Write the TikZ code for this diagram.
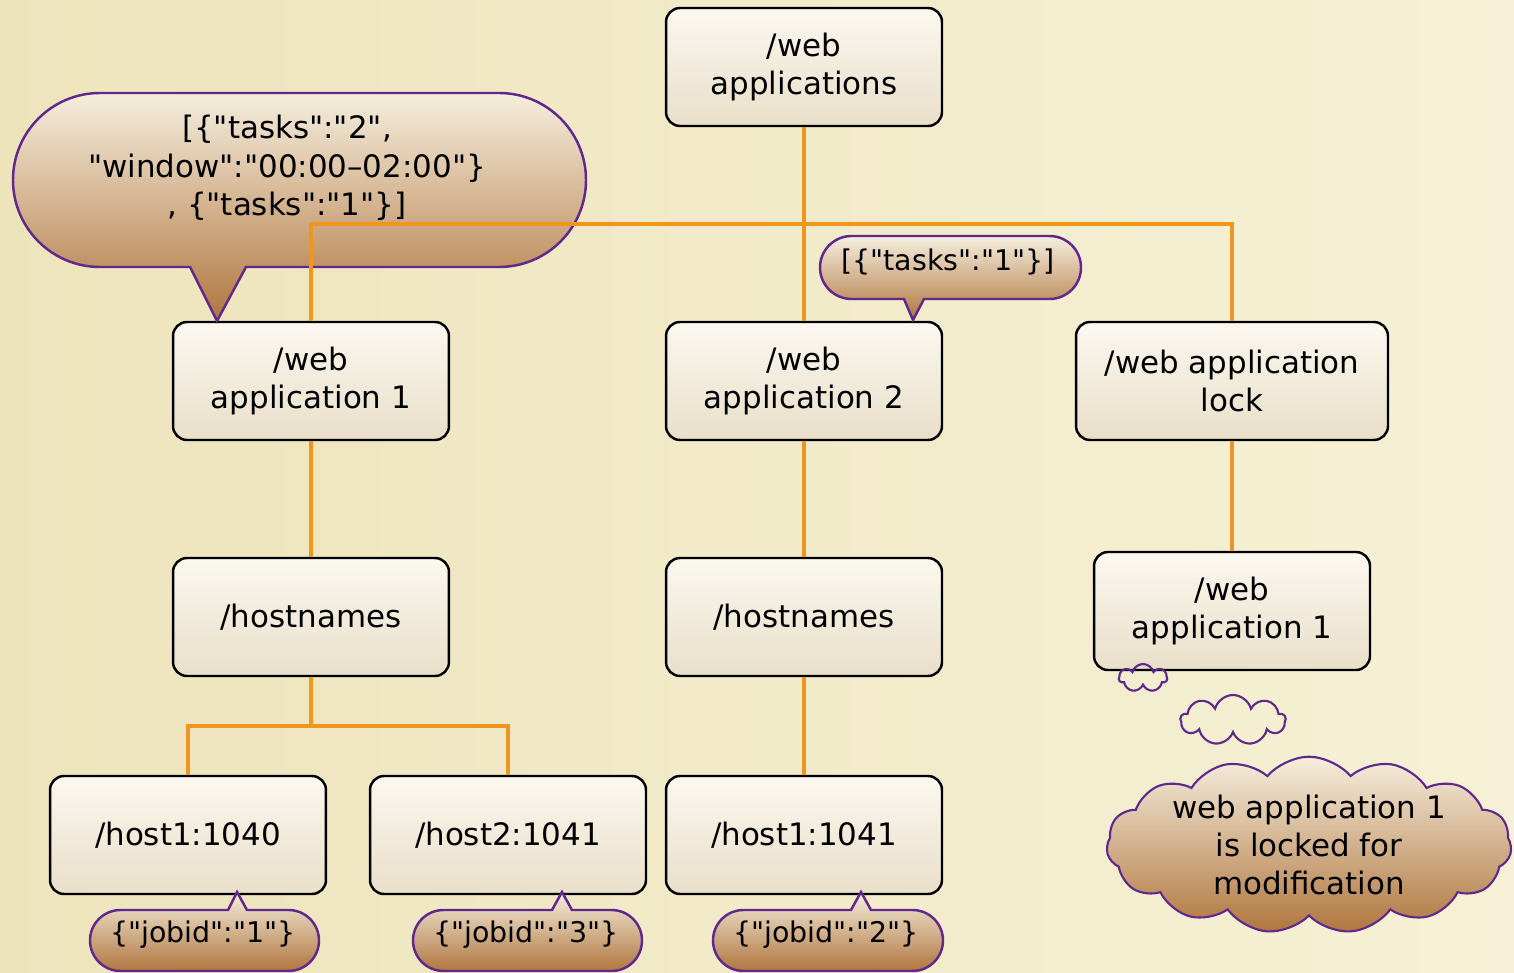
\documentclass[tikz,border=0pt]{standalone}
\usepackage{fontspec}
\setmainfont{DejaVu Sans}[Ligatures=TeXOff]
\usepackage{tikz}
\usetikzlibrary{shapes.symbols}
\usepackage{xcolor}

\definecolor{paperleft}{RGB}{238,228,188}
\definecolor{paperright}{RGB}{246,241,214}
\definecolor{boxtop}{RGB}{251,248,240}
\definecolor{boxbot}{RGB}{233,223,201}
\definecolor{bubtop}{RGB}{245,238,222}
\definecolor{bubbot}{RGB}{176,118,62}
\definecolor{bubline}{RGB}{96,40,140}
\definecolor{linkorange}{RGB}{240,150,30}

\begin{document}
\begin{tikzpicture}[
  x=0.02cm, y=0.02cm,
  font=\fontsize{17.6}{21.8}\selectfont,
  box/.style={draw=black, line width=1.4pt, rounded corners=0.28cm,
    top color=boxtop, bottom color=boxbot, align=center,
    minimum width=5.52cm, minimum height=2.36cm},
  bubble/.style={draw=bubline, line width=1.4pt, top color=bubtop, bottom color=bubbot},
  thought/.style={cloud, draw=bubline, line width=1.2pt, cloud ignores aspect, inner sep=0pt},
  label/.style={align=center},
  small/.style={font=\fontsize{16.2}{20}\selectfont},
  link/.style={draw=linkorange, line width=2.2pt},
]
  \useasboundingbox (0,0) rectangle (1514,-973);
  \fill[left color=paperleft, right color=paperright] (0,0) rectangle (1514,-973);

  % tree of znodes
  \node[box] (root) at (804,-67) {/web\\applications};
  \node[box] (app1) at (311,-381) {/web\\application 1};
  \node[box] (app2) at (804,-381) {/web\\application 2};
  \node[box, minimum width=6.24cm] (lock) at (1232,-381) {/web application\\lock};
  \node[box] (hosts1) at (311,-617) {/hostnames};
  \node[box] (hosts2) at (804,-617) {/hostnames};
  \node[box] (lockapp) at (1232,-611) {/web\\application 1};
  \node[box] (hostA) at (188,-835) {/host1:1040};
  \node[box] (hostB) at (508,-835) {/host2:1041};
  \node[box] (hostC) at (804,-835) {/host1:1041};

  % data callouts
  \path[bubble] (100,-93) -- (499,-93) arc[start angle=90, end angle=-90, radius=87]
    -- (246,-267) -- (217,-321) -- (190,-267) -- (100,-267)
    arc[start angle=270, end angle=90, radius=87] -- cycle;
  \node[label] (data1) at (287,-168) {[\{"tasks":"2",\\"window":"00:00–02:00"\}\\, \{"tasks":"1"\}]};

  \path[bubble] (851.5,-236) -- (1049.5,-236) arc[start angle=90, end angle=-90, radius=31.5]
    -- (924,-299) -- (913,-320) -- (904,-299) -- (851.5,-299)
    arc[start angle=270, end angle=90, radius=31.5] -- cycle;
  \node[label, small] (data2) at (948,-262) {[\{"tasks":"1"\}]};

  \path[bubble] (120.5,-910) -- (228,-910) -- (237,-892) -- (247,-910) -- (288.5,-910)
    arc[start angle=90, end angle=-90, radius=30.5] -- (120.5,-971)
    arc[start angle=270, end angle=90, radius=30.5] -- cycle;
  \node[label, small] (jobA) at (203,-935) {\{"jobid":"1"\}};

  \path[bubble] (443.5,-910) -- (552,-910) -- (562,-892) -- (572,-910) -- (611.5,-910)
    arc[start angle=90, end angle=-90, radius=30.5] -- (443.5,-971)
    arc[start angle=270, end angle=90, radius=30.5] -- cycle;
  \node[label, small] (jobB) at (526,-935) {\{"jobid":"3"\}};

  \path[bubble] (743.5,-910) -- (851,-910) -- (861,-892) -- (871,-910) -- (912.5,-910)
    arc[start angle=90, end angle=-90, radius=30.5] -- (743.5,-971)
    arc[start angle=270, end angle=90, radius=30.5] -- cycle;
  \node[label, small] (jobC) at (826,-935) {\{"jobid":"2"\}};

  % lock thought
  \node[thought, cloud puffs=7, minimum width=0.96cm, minimum height=0.56cm] (puff1) at (1143,-678) {};
  \node[thought, cloud puffs=9, minimum width=2.1cm, minimum height=1.0cm] (puff2) at (1233,-720) {};
  \node[thought, cloud puffs=15, cloud puff arc=100, top color=bubtop, bottom color=bubbot,
    minimum width=8.1cm, minimum height=3.3cm, align=center] (lockmsg) at (1309,-845)
    {web application 1\\is locked for\\modification};

  % connectors
  \coordinate (bar) at (804,-224);
  \coordinate (fork) at (311,-726);
  \draw[link] (root) -- (app2);
  \draw[link] (app1.north) |- (bar) -| (lock.north);
  \draw[link] (app1) -- (hosts1);
  \draw[link] (hosts1) -- (fork);
  \draw[link] (hostA.north) |- (fork) -| (hostB.north);
  \draw[link] (app2) -- (hosts2);
  \draw[link] (hosts2) -- (hostC);
  \draw[link] (lock) -- (lockapp);
\end{tikzpicture}
\end{document}
